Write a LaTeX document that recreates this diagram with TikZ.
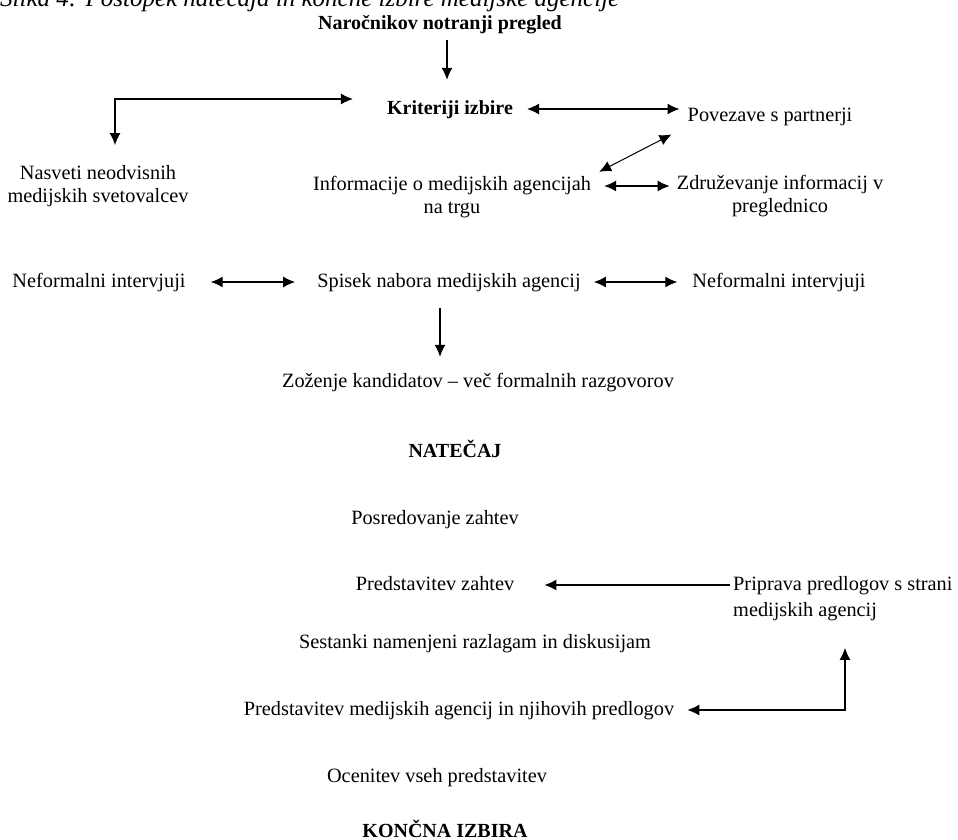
\documentclass[tikz,border=0pt]{standalone}
\usepackage{fontspec}
\setmainfont{Liberation Serif}
\usetikzlibrary{arrows.meta}
\begin{document}
\begin{tikzpicture}[x=1pt,y=-1pt,
  lbl/.style={inner sep=0pt, font=\fontsize{20.3}{23}\selectfont, text height=14pt, text depth=4pt},
  lblb/.style={inner sep=0pt, font=\bfseries\fontsize{20}{23}\selectfont, text height=14pt, text depth=4pt},
  multi/.style={inner sep=0pt, font=\fontsize{20.3}{23}\selectfont, align=center},
  tip/.tip={Latex[length=12pt,width=11pt]},
  conn/.style={line width=1.3pt, -tip},
  dconn/.style={line width=1.3pt, tip-tip},
]
\useasboundingbox (0,0) rectangle (958,840);
\clip (0,0) rectangle (958,840);

\node[inner sep=0pt, anchor=base west, font=\itshape\fontsize{25}{28}\selectfont] (cap) at (0,7) {Slika 4: Postopek natečaja in končne izbire medijske agencije};

\node[lblb] (nar) at (440,25) {Naročnikov notranji pregled};
\node[lblb] (krit) at (450,109) {Kriteriji izbire};
\node[lbl] (pov) at (770,117) {Povezave s partnerji};
\node[multi] (nas) at (98,186) {Nasveti neodvisnih\\medijskih svetovalcev};
\node[multi] (inf) at (452,197) {Informacije o medijskih agencijah\\na trgu};
\node[multi] (zdr) at (780,196) {Združevanje informacij v\\preglednico};
\node[lbl] (nf1) at (99,282) {Neformalni intervjuji};
\node[lbl] (spi) at (449,282) {Spisek nabora medijskih agencij};
\node[lbl] (nf2) at (779,282) {Neformalni intervjuji};
\node[lbl] (zoz) at (478,382) {Zoženje kandidatov – več formalnih razgovorov};
\node[lblb] (nat) at (455,452) {NATEČAJ};
\node[lbl] (pos) at (435,519) {Posredovanje zahtev};
\node[lbl] (pre) at (435,585) {Predstavitev zahtev};
\node[inner sep=0pt, font=\fontsize{20.3}{26}\selectfont, align=left, anchor=north west] (pri) at (733,576) {Priprava predlogov s strani\\medijskih agencij};
\node[lbl] (ses) at (475,643) {Sestanki namenjeni razlagam in diskusijam};
\node[lbl] (pma) at (459,710) {Predstavitev medijskih agencij in njihovih predlogov};
\node[lbl] (oce) at (437,777) {Ocenitev vseh predstavitev};
\node[lblb] (kon) at (445,832) {KONČNA IZBIRA};

\draw[conn, shorten <=6pt, shorten >=20pt] ([xshift=7pt]nar.south) -- ([xshift=7pt]nar.south |- krit.north);
\draw[dconn, shorten <=34pt, shorten >=20pt] ([yshift=10pt]krit.west) -| ([xshift=17pt]nas.north);
\draw[dconn, shorten <=14pt, shorten >=8pt] (krit.east) -- (krit.east -| pov.west);
\draw[dconn, line width=1pt, shorten <=18pt, shorten >=9pt] (pov.south west) -- (inf.north east);
\draw[dconn, shorten <=13pt, shorten >=7pt] ([yshift=11pt]inf.east) -- ([yshift=11pt]inf.east -| zdr.west);
\draw[dconn, shorten <=25pt, shorten >=22pt] (nf1.east) -- (spi.west);
\draw[dconn, shorten <=13pt, shorten >=15pt] (spi.east) -- (nf2.west);
\draw[conn, shorten <=17pt, shorten >=16pt] ([xshift=-9pt]spi.south) -- ([xshift=-9pt]spi.south |- zoz.north);
\draw[conn, shorten <=3pt, shorten >=30pt] (pre.east -| pri.west) -- (pre.east);
\draw[dconn, shorten <=13pt, shorten >=27pt] (pma.east) -| ([xshift=112pt]pri.south west);
\end{tikzpicture}
\end{document}
